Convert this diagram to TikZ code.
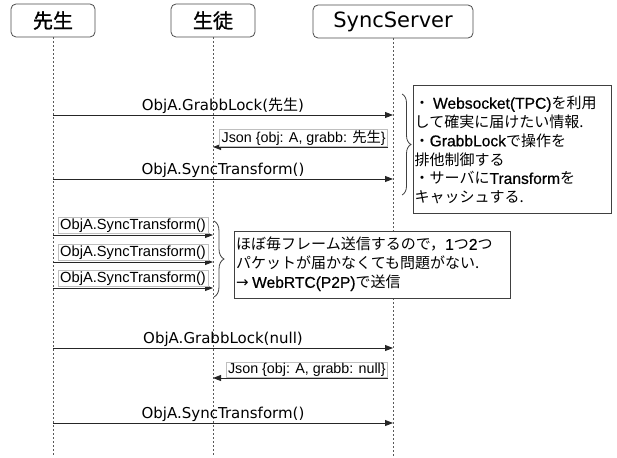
\documentclass[tikz,border=0pt]{standalone}
\usepackage{fontspec}
\setmainfont{DejaVu Sans}
\newfontfamily\jp{Noto Sans CJK JP}
\newfontfamily\jphead[FakeBold=1.2]{Noto Sans CJK JP}
\newfontfamily\arialish{Liberation Sans}
\newfontfamily\notelatin[Scale=1.04,FakeBold=0.6]{Liberation Sans}
\newfontfamily\symfont{DejaVu Sans}
\usetikzlibrary{arrows.meta,decorations.pathreplacing}

\tikzset{
  head/.style={draw=black!70, rounded corners=5pt, line width=0.8pt, minimum height=33pt, inner sep=0pt, fill=white},
  lifeline/.style={draw=black!65, line width=0.7pt, dash pattern=on 2pt off 2pt},
  msg/.style={draw=black!85, line width=0.9pt, -{Triangle[length=8pt,width=6pt]}},
  mlabel/.style={font=\fontsize{15}{18}\selectfont, inner sep=1pt, anchor=south},
  tag/.style={draw=black!25, fill=white, line width=0.6pt, font=\arialish\fontsize{14.3}{16}\selectfont, inner xsep=2pt, inner ysep=1pt},
  smalltag/.style={tag, font=\arialish\fontsize{14.7}{16}\selectfont, anchor=south, yshift=1.5pt},
  notebox/.style={draw=black!75, fill=white, line width=0.8pt, inner sep=0pt, anchor=north west},
  notetext/.style={align=left, inner sep=0pt, anchor=north west, font=\jp\fontsize{15}{18.8}\selectfont},
  bracket/.style={draw=black!75, line width=0.8pt, decorate, decoration={brace, amplitude=#1}},
  bracket/.default=9pt,
}

\begin{document}
\begin{tikzpicture}[x=1pt,y=-1pt]
\useasboundingbox (0,0) rectangle (617,457);

% participants
\node[head, minimum width=84pt, font=\jphead\fontsize{20}{22}\selectfont] (t) at (53,20.5) {先生};
\node[head, minimum width=84pt, font=\jphead\fontsize{20}{22}\selectfont] (s) at (213,20.5) {生徒};
\node[head, minimum width=160pt, font=\fontsize{21}{24}\selectfont] (v) at (393,21.5) {SyncServer};

% lifelines
\coordinate (tEnd) at (53,457);
\coordinate (sEnd) at (213,457);
\coordinate (vEnd) at (393,457);
\draw[lifeline] (t.south) -- (tEnd);
\draw[lifeline] (s.south) -- (sEnd);
\draw[lifeline] (v.south) -- (vEnd);

% reliable channel: lock and transform via the server
\coordinate (t1) at (53,115);  \coordinate (v1) at (393,115);
\draw[msg] (t1) -- node[mlabel] {ObjA.GrabbLock({\jp 先生})} (v1);

\coordinate (v2) at (388,147); \coordinate (s2) at (213,147);
\draw[msg] (v2) -- (s2);
\node[tag, anchor=south east] (j1) at (388,146.5) {Json \{obj: A, grabb: {\jp 先生}\}};

\coordinate (t3) at (53,179);  \coordinate (v3) at (393,179);
\draw[msg] (t3) -- node[mlabel] {ObjA.SyncTransform()} (v3);

\draw[bracket] (402,94) -- (402,195);
\node[notebox, minimum width=198pt, minimum height=128pt] (n1) at (413,85) {};
\node[notetext] (n1t) at (414.5,96) {・ {\notelatin Websocket(TPC)}を利用\\して確実に届けたい情報.\\・{\notelatin GrabbLock}で操作を\\排他制御する\\・サーバに{\notelatin Transform}を\\キャッシュする.};

% per-frame transforms, peer to peer
\coordinate (t4) at (53,235);  \coordinate (s4) at (213,235);
\coordinate (t5) at (53,262);  \coordinate (s5) at (213,262);
\coordinate (t6) at (53,288);  \coordinate (s6) at (213,288);
\draw[msg] (t4) -- node[smalltag] {ObjA.SyncTransform()} (s4);
\draw[msg] (t5) -- node[smalltag] {ObjA.SyncTransform()} (s5);
\draw[msg] (t6) -- node[smalltag] {ObjA.SyncTransform()} (s6);

\draw[bracket=10pt] (214,221) -- (214,297);
\node[notebox, minimum width=276pt, minimum height=67pt] (n2) at (234,231) {};
\node[notetext, font=\jp\fontsize{15}{19}\selectfont] (n2t) at (236,237) {ほぼ毎フレーム送信するので，{\notelatin 1}つ{\notelatin 2}つ\\パケットが届かなくても問題がない.\\{\symfont →} {\notelatin WebRTC(P2P)}で送信};

% releasing the lock
\coordinate (t7) at (53,348);  \coordinate (v7) at (393,348);
\draw[msg] (t7) -- node[mlabel] {ObjA.GrabbLock(null)} (v7);

\coordinate (v8) at (388,378); \coordinate (s8) at (213,378);
\draw[msg] (v8) -- (s8);
\node[tag, anchor=south east] (j2) at (388,377.5) {Json \{obj: A, grabb: null\}};

\coordinate (t9) at (53,423);  \coordinate (v9) at (393,423);
\draw[msg] (t9) -- node[mlabel] {ObjA.SyncTransform()} (v9);
\end{tikzpicture}
\end{document}
